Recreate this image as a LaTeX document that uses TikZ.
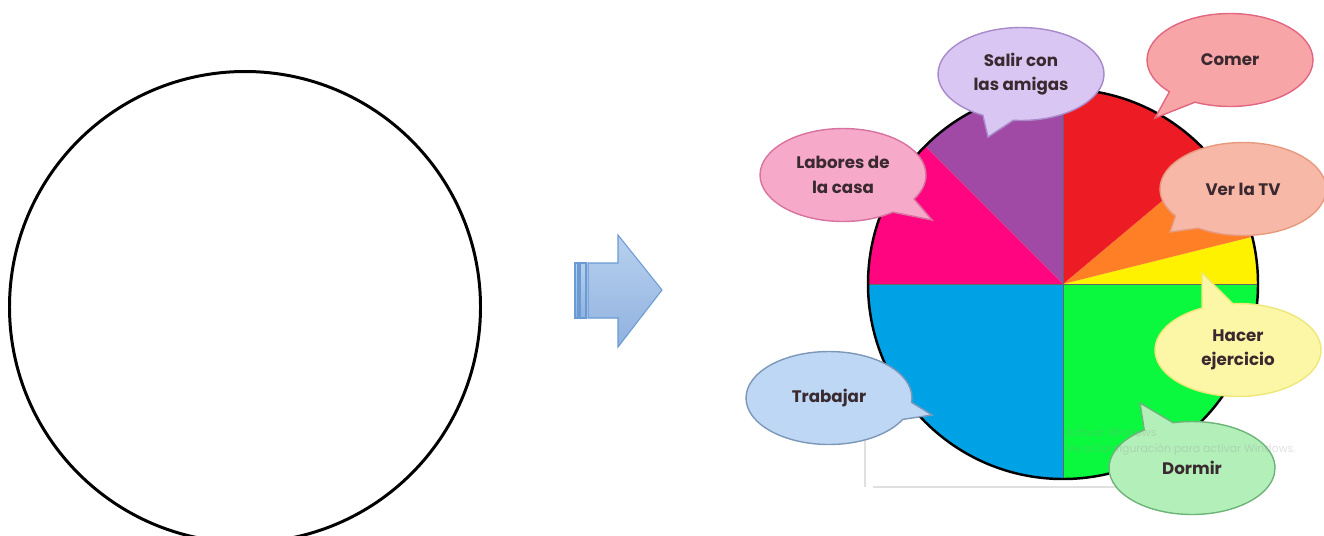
\documentclass[tikz,border=0pt]{standalone}
\usepackage{fontspec}
\setsansfont{Poppins}
\usetikzlibrary{shapes.callouts}
\definecolor{cRed}{HTML}{ED1C24}
\definecolor{cOrange}{HTML}{FF7F27}
\definecolor{cYellow}{HTML}{FFF200}
\definecolor{cGreen}{HTML}{0AF83E}
\definecolor{cBlue}{HTML}{00A2E6}
\definecolor{cPink}{HTML}{FF0580}
\definecolor{cPurple}{HTML}{A04AA6}
\definecolor{bComer}{HTML}{F8A5A8}
\definecolor{lComer}{HTML}{E2667F}
\definecolor{bSalir}{HTML}{D9C6F3}
\definecolor{lSalir}{HTML}{A889C9}
\definecolor{bLabores}{HTML}{F6A9C9}
\definecolor{lLabores}{HTML}{D8739F}
\definecolor{bVer}{HTML}{F7B8A8}
\definecolor{lVer}{HTML}{E79A7E}
\definecolor{bHacer}{HTML}{FBF7A6}
\definecolor{lHacer}{HTML}{EEE77A}
\definecolor{bTrab}{HTML}{BDD7F4}
\definecolor{lTrab}{HTML}{7D97B8}
\definecolor{bDorm}{HTML}{B3EFB9}
\definecolor{lDorm}{HTML}{6DB47A}
\definecolor{txtdark}{HTML}{3A2A30}
\definecolor{arrtop}{HTML}{B8D0EE}
\definecolor{arrbot}{HTML}{90B2DF}
\definecolor{arrline}{HTML}{6B9BD5}

\begin{document}
\begin{tikzpicture}[x=0.02cm,y=-0.02cm,
  bubble/.style={ellipse callout,draw,line width=0.8pt,inner sep=0pt,
    minimum width=3.32cm,minimum height=1.86cm,callout pointer arc=22,
    align=center,font=\sffamily\bfseries\fontsize{9.5}{14}\selectfont,text=txtdark},
  blk/.style={draw=arrline,line width=0.6pt,top color=arrtop,bottom color=arrbot}]
\useasboundingbox (0,0) rectangle (1324,535);
\clip (0,0) rectangle (1324,535);
% empty circle
\draw[line width=1.7pt] (245,307) circle[radius=235.5];
% block arrow
\path[blk] (575,263) rectangle (578,318);
\path[blk] (580,263) rectangle (586,318);
\path[blk] (588,263) -- (618,263) -- (618,235) -- (662,290) -- (618,347)
  -- (618,318) -- (588,318) -- cycle;
% pie
\coordinate (pc) at (1063,284);
\foreach \a/\b/\c in {0/14/cYellow,14/40/cOrange,40/90/cRed,90/135/cPurple,
    135/180/cPink,180/270/cBlue,270/360/cGreen}
  \fill[\c] (pc) -- ++(-\a:195) arc[start angle=-\a,end angle=-\b,radius=195] -- cycle;
\draw[black!60,line width=0.4pt] (pc) -- ++(0,-195) (pc) -- ++(0,195)
  (pc) -- ++(-195,0) (pc) -- ++(195,0);
\draw[line width=1.4pt] (pc) circle[radius=195];
% faint frame
\draw[black!12,line width=0.8pt] (865,430) -- (865,487) (873,487) -- (1120,487);
% bubbles
\coordinate (tsalir) at (988,137);
\coordinate (tcomer) at (1155,118);
\coordinate (tlabores) at (932,220);
\coordinate (tver) at (1170,232);
\coordinate (thacer) at (1202,273);
\coordinate (ttrab) at (932,415);
\coordinate (tdorm) at (1140,403);
\node[bubble,fill=bSalir,draw=lSalir,callout absolute pointer={(tsalir)}] (salir) at (1021,74) {Salir con\\las amigas};
\node[bubble,fill=bComer,draw=lComer,callout absolute pointer={(tcomer)}] (comer) at (1230,60) {Comer};
\node[bubble,fill=bLabores,draw=lLabores,callout absolute pointer={(tlabores)}] (labores) at (843,175) {Labores de\\la casa};
\node[bubble,fill=bVer,draw=lVer,callout absolute pointer={(tver)}] (vertv) at (1243,189) {Ver la TV};
\node[bubble,fill=bHacer,draw=lHacer,callout absolute pointer={(thacer)}] (hacer) at (1238,350) {Hacer\\ejercicio};
\node[bubble,fill=bTrab,draw=lTrab,callout absolute pointer={(ttrab)}] (trabajar) at (829,398) {Trabajar};
\node[bubble,fill=bDorm,draw=lDorm,callout absolute pointer={(tdorm)}] (dormir) at (1192,468) {Dormir};
% watermark
\node[anchor=west,font=\sffamily\fontsize{6.2}{9}\selectfont,text=black!40,text opacity=0.3,align=left] (wmark) at (1060,442) {Activar Windows\\Ve a Configuración para activar Windows.};
\end{tikzpicture}
\end{document}
